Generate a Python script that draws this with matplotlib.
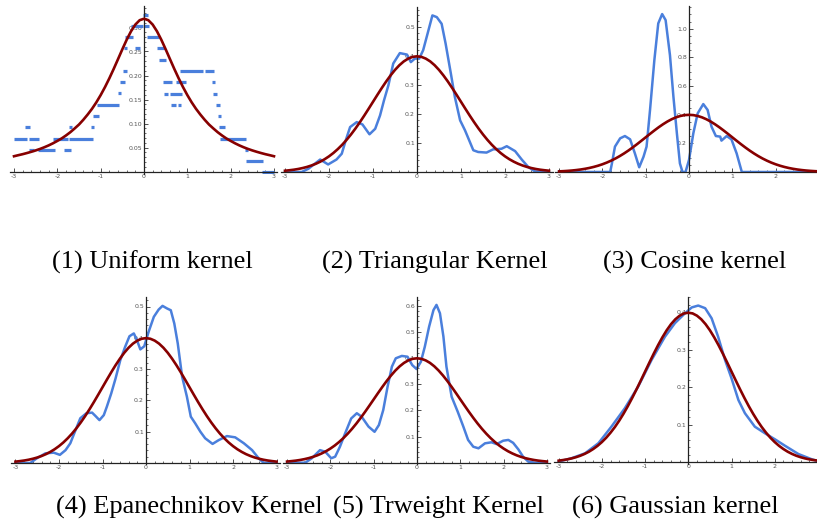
import matplotlib
matplotlib.use("Agg")
import matplotlib.pyplot as plt
from matplotlib.ticker import MultipleLocator

plt.rcParams['axes.unicode_minus'] = False

# ---------------- data ----------------
# reference curves sampled on x = 0, 0.1, ..., 3.0 (symmetric)
ref_half_x = [0.0, 0.1, 0.2, 0.3, 0.4, 0.5, 0.6, 0.7, 0.8, 0.9, 1.0, 1.1, 1.2, 1.3, 1.4, 1.5,
              1.6, 1.7, 1.8, 1.9, 2.0, 2.1, 2.2, 2.3, 2.4, 2.5, 2.6, 2.7, 2.8, 2.9, 3.0]
normal_half = [0.3989, 0.3970, 0.3910, 0.3814, 0.3683, 0.3521, 0.3332, 0.3123, 0.2897, 0.2661,
               0.2420, 0.2179, 0.1942, 0.1714, 0.1497, 0.1295, 0.1109, 0.0940, 0.0790, 0.0656,
               0.0540, 0.0440, 0.0355, 0.0283, 0.0224, 0.0175, 0.0136, 0.0104, 0.0079, 0.0060, 0.0044]
cauchy_half = [0.3183, 0.3152, 0.3061, 0.2920, 0.2744, 0.2546, 0.2340, 0.2136, 0.1941, 0.1759,
               0.1592, 0.1441, 0.1306, 0.1187, 0.1078, 0.0979, 0.0897, 0.0819, 0.0751, 0.0689,
               0.0637, 0.0588, 0.0544, 0.0505, 0.0470, 0.0439, 0.0411, 0.0385, 0.0361, 0.0340, 0.0318]

# (1) uniform kernel: horizontal pieces (start, end, height)
uni_x0 = [-3.0, -2.75, -2.65, -2.65, -2.44, -2.09, -1.84, -1.73, -1.73, -1.23, -1.18, -1.09, -0.59,
          -0.55, -0.48, -0.46, -0.44, -0.30, -0.21, -0.03, 0.00, 0.08, 0.29, 0.35, 0.45, 0.47,
          0.60, 0.62, 0.73, 0.79, 0.83, 1.40, 1.58, 1.60, 1.66, 1.70, 1.73, 1.75, 2.32, 2.35, 2.72]
uni_x1 = [-2.71, -2.62, -2.42, -2.55, -2.05, -1.75, -1.69, -1.66, -1.18, -1.15, -1.05, -0.57, -0.52,
          -0.44, -0.40, -0.40, -0.25, -0.02, -0.09, 0.10, 0.12, 0.35, 0.49, 0.50, 0.64, 0.55,
          0.87, 0.73, 0.96, 0.85, 1.37, 1.62, 1.64, 1.69, 1.75, 1.78, 1.88, 2.35, 2.41, 2.75, 3.0]
uni_y = [0.068, 0.092, 0.068, 0.044, 0.044, 0.068, 0.044, 0.092, 0.068, 0.092, 0.115, 0.139, 0.163,
         0.186, 0.209, 0.257, 0.280, 0.303, 0.257, 0.326, 0.303, 0.280, 0.257, 0.233, 0.186, 0.162,
         0.162, 0.139, 0.186, 0.139, 0.209, 0.209, 0.186, 0.162, 0.139, 0.115, 0.092, 0.068, 0.044,
         0.021, -0.002]

# (2) triangular kernel
tri_x = [-3.0, -2.62, -2.47, -2.2, -2.02, -1.83, -1.71, -1.62, -1.52, -1.37, -1.24, -1.08, -0.95,
         -0.84, -0.75, -0.65, -0.54, -0.39, -0.23, -0.14, -0.05, 0.05, 0.14, 0.24, 0.35, 0.45, 0.56,
         0.65, 0.77, 0.86, 0.98, 1.09, 1.17, 1.28, 1.39, 1.58, 1.73, 1.92, 2.04, 2.23, 2.38, 2.53,
         2.68, 3.0]
tri_y = [0.0, 0.0, 0.011, 0.043, 0.026, 0.043, 0.063, 0.109, 0.155, 0.172, 0.164, 0.130, 0.149,
         0.195, 0.247, 0.299, 0.374, 0.410, 0.405, 0.379, 0.391, 0.391, 0.420, 0.477, 0.540, 0.534,
         0.511, 0.443, 0.339, 0.259, 0.178, 0.144, 0.115, 0.075, 0.069, 0.067, 0.078, 0.080, 0.089,
         0.072, 0.043, 0.017, 0.002, 0.0]

# (3) cosine kernel
cos_x = [-3.0, -1.82, -1.78, -1.71, -1.59, -1.48, -1.36, -1.25, -1.15, -1.05, -0.98, -0.90, -0.80,
         -0.71, -0.62, -0.54, -0.44, -0.36, -0.28, -0.21, -0.15, -0.08, 0.0, 0.10, 0.20, 0.33, 0.43,
         0.52, 0.62, 0.72, 0.75, 0.87, 0.98, 1.10, 1.22, 2.95]
cos_y = [0.0, 0.0, 0.06, 0.177, 0.235, 0.251, 0.228, 0.130, 0.033, 0.107, 0.177, 0.433, 0.781,
         1.037, 1.102, 1.060, 0.816, 0.526, 0.270, 0.060, 0.0, 0.0, 0.084, 0.270, 0.409, 0.474,
         0.433, 0.316, 0.251, 0.247, 0.219, 0.251, 0.228, 0.130, 0.0, 0.0]

# (4) Epanechnikov kernel
epa_x = [-3.0, -2.66, -2.51, -2.31, -2.12, -1.98, -1.85, -1.74, -1.62, -1.51, -1.37, -1.24, -1.16,
         -1.07, -0.97, -0.90, -0.80, -0.70, -0.59, -0.48, -0.38, -0.28, -0.21, -0.13, -0.04, 0.06,
         0.18, 0.29, 0.38, 0.48, 0.57, 0.65, 0.73, 0.83, 0.94, 1.03, 1.13, 1.25, 1.36, 1.53, 1.67,
         1.86, 2.05, 2.25, 2.44, 2.59, 2.70, 3.0]
epa_y = [0.0, 0.0, 0.015, 0.031, 0.033, 0.026, 0.041, 0.063, 0.105, 0.143, 0.159, 0.161, 0.150,
         0.137, 0.153, 0.180, 0.222, 0.270, 0.329, 0.371, 0.405, 0.414, 0.393, 0.363, 0.373, 0.419,
         0.467, 0.490, 0.502, 0.494, 0.488, 0.446, 0.382, 0.276, 0.212, 0.148, 0.127, 0.100, 0.079,
         0.061, 0.073, 0.086, 0.082, 0.063, 0.041, 0.015, 0.001, 0.0]

# (5) triweight kernel
trw_x = [-3.0, -2.58, -2.43, -2.24, -2.12, -1.98, -1.89, -1.78, -1.66, -1.52, -1.39, -1.28, -1.12,
         -0.98, -0.88, -0.78, -0.68, -0.58, -0.49, -0.35, -0.22, -0.11, -0.01, 0.09, 0.18, 0.28,
         0.38, 0.45, 0.53, 0.61, 0.68, 0.80, 0.94, 1.07, 1.18, 1.30, 1.42, 1.57, 1.72, 1.84, 1.99,
         2.11, 2.22, 2.34, 2.45, 2.57, 2.72, 3.0]
trw_y = [0.0, 0.0, 0.017, 0.048, 0.042, 0.017, 0.023, 0.061, 0.112, 0.169, 0.189, 0.176, 0.138,
         0.118, 0.144, 0.201, 0.290, 0.367, 0.399, 0.408, 0.405, 0.373, 0.358, 0.386, 0.443, 0.520,
         0.583, 0.603, 0.571, 0.482, 0.367, 0.252, 0.195, 0.138, 0.087, 0.061, 0.055, 0.074, 0.078,
         0.071, 0.084, 0.087, 0.076, 0.051, 0.023, 0.004, 0.0, 0.0]

# (6) Gaussian kernel
gau_x = [-3.0, -2.7, -2.39, -2.08, -1.78, -1.47, -1.16, -0.85, -0.54, -0.31, -0.08, 0.08, 0.23,
         0.39, 0.54, 0.69, 0.85, 1.0, 1.16, 1.31, 1.54, 1.78, 2.01, 2.24, 2.55, 2.86, 2.98]
gau_y = [0.002, 0.011, 0.024, 0.051, 0.095, 0.144, 0.202, 0.273, 0.335, 0.371, 0.397, 0.413, 0.418,
         0.411, 0.384, 0.335, 0.273, 0.224, 0.166, 0.131, 0.095, 0.077, 0.061, 0.044, 0.022, 0.008,
         0.004]

captions = ["(1) Uniform kernel", "(2) Triangular Kernel", "(3) Cosine kernel",
            "(4) Epanechnikov Kernel", "(5) Trweight Kernel", "(6) Gaussian kernel"]

x_ticks_full = [-3, -2, -1, 0, 1, 2, 3]
x_ticks_cut = [-3, -2, -1, 0, 1, 2]

# --------------- figure ---------------
W, H = 817, 528
fig = plt.figure(figsize=(W / 100, H / 100), dpi=100)
fig.patch.set_facecolor("white")

BLUE = "#4a7fdc"
RED = "#870000"

ref_x = [-v for v in ref_half_x[::-1]] + ref_half_x[1:]
normal_y = normal_half[::-1] + normal_half[1:]
cauchy_y = cauchy_half[::-1] + cauchy_half[1:]


def make_ax(x0px, xunit, y0px, yunit, xlim, ylim, ymajor, yminor, yfmt, yticks_max, xticks):
    left = x0px + xlim[0] * xunit
    right = x0px + xlim[1] * xunit
    bottom = y0px - ylim[0] * yunit
    top = y0px - ylim[1] * yunit
    ax = fig.add_axes([left / W, 1 - bottom / H, (right - left) / W, (bottom - top) / H])
    ax.set_xlim(*xlim)
    ax.set_ylim(*ylim)
    ax.patch.set_alpha(0)
    for s in ("top", "right"):
        ax.spines[s].set_visible(False)
    ax.spines["left"].set_position(("data", 0))
    ax.spines["bottom"].set_position(("data", 0))
    for s in ("left", "bottom"):
        ax.spines[s].set_linewidth(0.9)
        ax.spines[s].set_color("#222222")
    ax.set_xticks(xticks)
    ax.set_xticklabels([str(t) for t in xticks])
    ax.xaxis.set_minor_locator(MultipleLocator(0.2))
    yt = []
    v = ymajor
    while v <= yticks_max + 1e-9:
        yt.append(round(v, 4))
        v += ymajor
    ax.set_yticks(yt)
    ax.set_yticklabels([yfmt.format(t) for t in yt])
    ax.yaxis.set_minor_locator(MultipleLocator(yminor))
    ax.tick_params(which="major", direction="in", length=3, width=0.6, color="#333333",
                   labelsize=4.5, labelcolor="#555555", pad=1.5)
    ax.tick_params(which="minor", direction="in", length=1.6, width=0.5, color="#333333")
    return ax


# panel 1
ax1 = make_ax(144, 43.33, 171.5, 480, (-3.1, 3.08), (-0.006, 0.345), 0.05, 0.01, "{:.2f}", 0.30,
              x_ticks_full)
ax1.hlines(uni_y, uni_x0, uni_x1, colors=BLUE, linewidth=2.3, zorder=2)
ax1.plot(ref_x, cauchy_y, color=RED, linewidth=1.9, zorder=3)

# panel 2
ax2 = make_ax(417, 44.0, 172, 290, (-3.1, 3.08), (-0.004, 0.57), 0.1, 0.02, "{:.1f}", 0.5,
              x_ticks_full)
ax2.plot(tri_x, tri_y, color=BLUE, linewidth=1.8, zorder=2)
ax2.plot(ref_x, normal_y, color=RED, linewidth=1.9, zorder=3)

# panel 3
ax3 = make_ax(689, 43.3, 172, 143.3, (-3.1, 2.95), (-0.008, 1.16), 0.2, 0.05, "{:.1f}", 1.0,
              x_ticks_cut)
ax3.plot(cos_x, cos_y, color=BLUE, linewidth=1.8, zorder=2)
ax3.plot(ref_x, normal_y, color=RED, linewidth=1.9, zorder=3)

# panel 4
ax4 = make_ax(146, 43.5, 463, 313, (-3.1, 3.08), (-0.004, 0.53), 0.1, 0.02, "{:.1f}", 0.5,
              x_ticks_full)
ax4.plot(epa_x, epa_y, color=BLUE, linewidth=1.8, zorder=2)
ax4.plot(ref_x, normal_y, color=RED, linewidth=1.9, zorder=3)

# panel 5
ax5 = make_ax(417, 43.3, 462.7, 261.7, (-3.1, 3.08), (-0.004, 0.634), 0.1, 0.02, "{:.1f}", 0.6,
              x_ticks_full)
ax5.plot(trw_x, trw_y, color=BLUE, linewidth=1.8, zorder=2)
ax5.plot(ref_x, normal_y, color=RED, linewidth=1.9, zorder=3)

# panel 6
ax6 = make_ax(688.3, 43.2, 462.3, 375, (-3.1, 2.98), (-0.004, 0.44), 0.1, 0.02, "{:.1f}", 0.4,
              x_ticks_cut)
ax6.plot(gau_x, gau_y, color=BLUE, linewidth=1.8, zorder=2)
ax6.plot(ref_x, normal_y, color=RED, linewidth=1.9, zorder=3)

# captions (left x px, baseline y px)
cap_pos = [(52, 269), (322, 269), (603, 269), (56, 514), (333, 514), (572, 514)]
for txt, (px, py) in zip(captions, cap_pos):
    fig.text(px / W, 1 - py / H, txt, ha="left", va="baseline",
             fontsize=19, family=["Liberation Serif", "DejaVu Serif"], color="black")

fig.savefig("out.png", dpi=100, facecolor="white")
